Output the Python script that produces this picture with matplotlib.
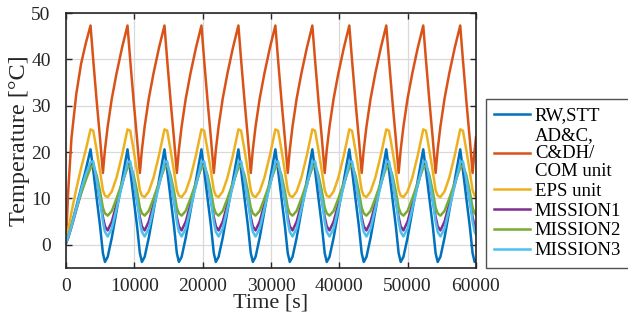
import matplotlib
matplotlib.use("Agg")
import matplotlib.pyplot as plt

plt.rcParams['font.family'] = ['Liberation Serif', 'DejaVu Serif']

# time axis [s]
time_s = [
    0, 300, 800, 1500, 2200, 2900, 3590, 3990, 4490, 4990,
    5400, 5700, 6100, 6700, 7400, 8200, 9000, 9400, 9900, 10400,
    10810, 11110, 11510, 12110, 12810, 13610, 14410, 14810, 15310, 15810,
    16220, 16520, 16920, 17520, 18220, 19020, 19820, 20220, 20720, 21220,
    21630, 21930, 22330, 22930, 23630, 24430, 25230, 25630, 26130, 26630,
    27040, 27340, 27740, 28340, 29040, 29840, 30640, 31040, 31540, 32040,
    32450, 32750, 33150, 33750, 34450, 35250, 36050, 36450, 36950, 37450,
    37860, 38160, 38560, 39160, 39860, 40660, 41460, 41860, 42360, 42860,
    43270, 43570, 43970, 44570, 45270, 46070, 46870, 47270, 47770, 48270,
    48680, 48980, 49380, 49980, 50680, 51480, 52280, 52680, 53180, 53680,
    54090, 54390, 54790, 55390, 56090, 56890, 57690, 58090, 58590, 59090,
    59500, 59800, 60000,
]

rw_stt = [
    0.3, 1.5, 4.2, 8.2, 12.2, 16.2, 20.6, 16.0, 10.0, 4.0,
    -1.8, -3.7, -2.6, 1.5, 7.3, 13.9, 20.6, 16.0, 10.0, 4.0,
    -1.8, -3.7, -2.6, 1.5, 7.3, 13.9, 20.6, 16.0, 10.0, 4.0,
    -1.8, -3.7, -2.6, 1.5, 7.3, 13.9, 20.6, 16.0, 10.0, 4.0,
    -1.8, -3.7, -2.6, 1.5, 7.3, 13.9, 20.6, 16.0, 10.0, 4.0,
    -1.8, -3.7, -2.6, 1.5, 7.3, 13.9, 20.6, 16.0, 10.0, 4.0,
    -1.8, -3.7, -2.6, 1.5, 7.3, 13.9, 20.6, 16.0, 10.0, 4.0,
    -1.8, -3.7, -2.6, 1.5, 7.3, 13.9, 20.6, 16.0, 10.0, 4.0,
    -1.8, -3.7, -2.6, 1.5, 7.3, 13.9, 20.6, 16.0, 10.0, 4.0,
    -1.8, -3.7, -2.6, 1.5, 7.3, 13.9, 20.6, 16.0, 10.0, 4.0,
    -1.8, -3.7, -2.6, 1.5, 7.3, 13.9, 20.6, 16.0, 10.0, 4.0,
    -1.8, -3.7, -3.3,
]

cdh_com = [
    0.5, 11.0, 23.0, 32.5, 39.0, 43.5, 47.3, 39.8, 31.0, 22.8,
    15.5, 20.5, 25.5, 31.5, 37.0, 42.5, 47.3, 39.8, 31.0, 22.8,
    15.5, 20.5, 25.5, 31.5, 37.0, 42.5, 47.3, 39.8, 31.0, 22.8,
    15.5, 20.5, 25.5, 31.5, 37.0, 42.5, 47.3, 39.8, 31.0, 22.8,
    15.5, 20.5, 25.5, 31.5, 37.0, 42.5, 47.3, 39.8, 31.0, 22.8,
    15.5, 20.5, 25.5, 31.5, 37.0, 42.5, 47.3, 39.8, 31.0, 22.8,
    15.5, 20.5, 25.5, 31.5, 37.0, 42.5, 47.3, 39.8, 31.0, 22.8,
    15.5, 20.5, 25.5, 31.5, 37.0, 42.5, 47.3, 39.8, 31.0, 22.8,
    15.5, 20.5, 25.5, 31.5, 37.0, 42.5, 47.3, 39.8, 31.0, 22.8,
    15.5, 20.5, 25.5, 31.5, 37.0, 42.5, 47.3, 39.8, 31.0, 22.8,
    15.5, 20.5, 25.5, 31.5, 37.0, 42.5, 47.3, 39.8, 31.0, 22.8,
    15.5, 20.5, 23.2,
]

eps_unit = [
    0.5, 3.0, 7.0, 12.0, 16.5, 20.5, 24.9, 24.6, 20.4, 15.8,
    11.8, 10.6, 10.3, 11.5, 14.5, 19.3, 24.9, 24.6, 20.4, 15.8,
    11.8, 10.6, 10.3, 11.5, 14.5, 19.3, 24.9, 24.6, 20.4, 15.8,
    11.8, 10.6, 10.3, 11.5, 14.5, 19.3, 24.9, 24.6, 20.4, 15.8,
    11.8, 10.6, 10.3, 11.5, 14.5, 19.3, 24.9, 24.6, 20.4, 15.8,
    11.8, 10.6, 10.3, 11.5, 14.5, 19.3, 24.9, 24.6, 20.4, 15.8,
    11.8, 10.6, 10.3, 11.5, 14.5, 19.3, 24.9, 24.6, 20.4, 15.8,
    11.8, 10.6, 10.3, 11.5, 14.5, 19.3, 24.9, 24.6, 20.4, 15.8,
    11.8, 10.6, 10.3, 11.5, 14.5, 19.3, 24.9, 24.6, 20.4, 15.8,
    11.8, 10.6, 10.3, 11.5, 14.5, 19.3, 24.9, 24.6, 20.4, 15.8,
    11.8, 10.6, 10.3, 11.5, 14.5, 19.3, 24.9, 24.6, 20.4, 15.8,
    11.8, 10.6, 10.4,
]

mission1 = [
    0.5, 1.5, 3.8, 7.5, 11.2, 14.5, 17.3, 17.2, 14.0, 9.5,
    6.0, 4.0, 3.1, 5.0, 8.8, 13.0, 17.3, 17.2, 14.0, 9.5,
    6.0, 4.0, 3.1, 5.0, 8.8, 13.0, 17.3, 17.2, 14.0, 9.5,
    6.0, 4.0, 3.1, 5.0, 8.8, 13.0, 17.3, 17.2, 14.0, 9.5,
    6.0, 4.0, 3.1, 5.0, 8.8, 13.0, 17.3, 17.2, 14.0, 9.5,
    6.0, 4.0, 3.1, 5.0, 8.8, 13.0, 17.3, 17.2, 14.0, 9.5,
    6.0, 4.0, 3.1, 5.0, 8.8, 13.0, 17.3, 17.2, 14.0, 9.5,
    6.0, 4.0, 3.1, 5.0, 8.8, 13.0, 17.3, 17.2, 14.0, 9.5,
    6.0, 4.0, 3.1, 5.0, 8.8, 13.0, 17.3, 17.2, 14.0, 9.5,
    6.0, 4.0, 3.1, 5.0, 8.8, 13.0, 17.3, 17.2, 14.0, 9.5,
    6.0, 4.0, 3.1, 5.0, 8.8, 13.0, 17.3, 17.2, 14.0, 9.5,
    6.0, 4.0, 3.4,
]

mission2 = [
    0.5, 1.8, 4.2, 7.8, 11.0, 14.0, 16.6, 17.2, 15.0, 11.5,
    8.0, 6.8, 6.3, 7.3, 10.0, 13.4, 16.6, 17.2, 15.0, 11.5,
    8.0, 6.8, 6.3, 7.3, 10.0, 13.4, 16.6, 17.2, 15.0, 11.5,
    8.0, 6.8, 6.3, 7.3, 10.0, 13.4, 16.6, 17.2, 15.0, 11.5,
    8.0, 6.8, 6.3, 7.3, 10.0, 13.4, 16.6, 17.2, 15.0, 11.5,
    8.0, 6.8, 6.3, 7.3, 10.0, 13.4, 16.6, 17.2, 15.0, 11.5,
    8.0, 6.8, 6.3, 7.3, 10.0, 13.4, 16.6, 17.2, 15.0, 11.5,
    8.0, 6.8, 6.3, 7.3, 10.0, 13.4, 16.6, 17.2, 15.0, 11.5,
    8.0, 6.8, 6.3, 7.3, 10.0, 13.4, 16.6, 17.2, 15.0, 11.5,
    8.0, 6.8, 6.3, 7.3, 10.0, 13.4, 16.6, 17.2, 15.0, 11.5,
    8.0, 6.8, 6.3, 7.3, 10.0, 13.4, 16.6, 17.2, 15.0, 11.5,
    8.0, 6.8, 6.5,
]

mission3 = [
    0.5, 1.6, 4.0, 7.8, 11.8, 15.2, 17.8, 18.0, 14.0, 9.5,
    5.0, 2.8, 1.8, 3.5, 7.8, 12.8, 17.8, 18.0, 14.0, 9.5,
    5.0, 2.8, 1.8, 3.5, 7.8, 12.8, 17.8, 18.0, 14.0, 9.5,
    5.0, 2.8, 1.8, 3.5, 7.8, 12.8, 17.8, 18.0, 14.0, 9.5,
    5.0, 2.8, 1.8, 3.5, 7.8, 12.8, 17.8, 18.0, 14.0, 9.5,
    5.0, 2.8, 1.8, 3.5, 7.8, 12.8, 17.8, 18.0, 14.0, 9.5,
    5.0, 2.8, 1.8, 3.5, 7.8, 12.8, 17.8, 18.0, 14.0, 9.5,
    5.0, 2.8, 1.8, 3.5, 7.8, 12.8, 17.8, 18.0, 14.0, 9.5,
    5.0, 2.8, 1.8, 3.5, 7.8, 12.8, 17.8, 18.0, 14.0, 9.5,
    5.0, 2.8, 1.8, 3.5, 7.8, 12.8, 17.8, 18.0, 14.0, 9.5,
    5.0, 2.8, 1.8, 3.5, 7.8, 12.8, 17.8, 18.0, 14.0, 9.5,
    5.0, 2.8, 2.2,
]

series_labels = ['RW,STT', 'AD&C,\nC&DH/\nCOM unit', 'EPS unit',
                 'MISSION1', 'MISSION2', 'MISSION3']
series_values = [rw_stt, cdh_com, eps_unit, mission1, mission2, mission3]
series_colors = ['#0072BD', '#D95319', '#EDB120', '#7E2F8E', '#77AC30', '#4DBEEE']

x_ticks = [0, 10000, 20000, 30000, 40000, 50000, 60000]
y_ticks = [0, 10, 20, 30, 40, 50]

fig = plt.figure(figsize=(6.28, 3.24), dpi=100)
ax = fig.add_axes([66/628, 1-268/324, (476-66)/628, (268-13)/324])

for vals, lab, col in zip(series_values, series_labels, series_colors):
    ax.plot(time_s, vals, color=col, lw=1.8, label=lab)

ax.set_xlim(0, 60000)
ax.set_ylim(-5, 50)
ax.set_xticks(x_ticks)
ax.set_yticks(y_ticks)
ax.set_xticklabels([str(v) for v in x_ticks])
ax.grid(True, color='#d9d9d9', lw=0.9)
ax.set_axisbelow(True)
for s in ax.spines.values():
    s.set_color('#262626')
    s.set_linewidth(1.2)
ax.tick_params(direction='in', length=4, width=1, colors='#262626',
               top=True, right=True, labelsize=14)
ax.tick_params(axis='y', pad=11)
ax.tick_params(axis='x', pad=7)
ax.set_xlabel('Time [s]', fontsize=16, color='#262626', labelpad=-1)
ax.set_ylabel('Temperature [°C]', fontsize=17.5, color='#262626', labelpad=1)

leg = fig.legend(loc='upper left', bbox_to_anchor=(486/628, 1-99/324),
                 bbox_transform=fig.transFigure, fontsize=13.5,
                 frameon=True, fancybox=False, edgecolor='#262626',
                 handlelength=1.9, handletextpad=0.25, labelspacing=0.15,
                 borderpad=0.45, borderaxespad=0)
leg.get_frame().set_linewidth(1.0)
for t in leg.get_texts():
    t.set_linespacing(1.05)
for h in leg.get_lines():
    h.set_linewidth(1.8)

fig.savefig('out.png', dpi=100)
